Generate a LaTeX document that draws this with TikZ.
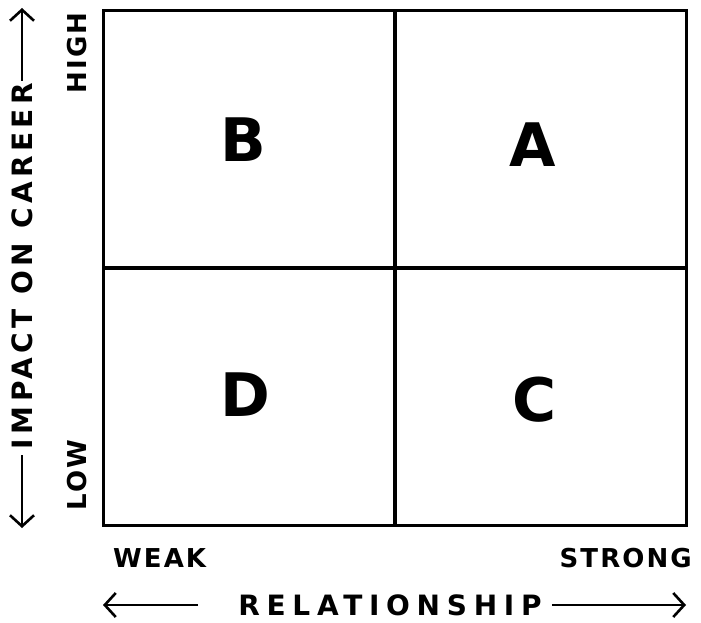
\documentclass[tikz,border=0pt]{standalone}
\usepackage{fontspec}
\setmainfont{DejaVu Sans}
\usetikzlibrary{arrows.meta}
\tikzset{
  cell/.style={draw, line width=3pt, minimum width=291pt, minimum height=257pt, inner sep=0pt, outer sep=0pt},
  quadletter/.style={font=\fontsize{60}{62}\selectfont\bfseries, inner sep=0pt},
  vaxislabel/.style={font=\fontsize{28}{30}\selectfont\bfseries\addfontfeature{LetterSpace=16}, inner sep=0pt},
  haxislabel/.style={font=\fontsize{28}{30}\selectfont\bfseries\addfontfeature{LetterSpace=24}, inner sep=0pt},
  endlabel/.style={font=\fontsize{26}{28}\selectfont\bfseries\addfontfeature{LetterSpace=8}, inner sep=0pt},
  axisarrow/.style={line width=2.6pt, -{Straight Barb[length=11pt,width=24pt,line width=2.6pt]}}
}
\begin{document}
\begin{tikzpicture}[x=1pt,y=-1pt]
\useasboundingbox (0,0) rectangle (701,623);
% quadrants
\node[cell] (qB) at (249,139) {};
\node[cell] (qA) at (540.5,139) {};
\node[cell] (qD) at (249,396.5) {};
\node[cell] (qC) at (540.5,396.5) {};
% letters
\node[quadletter] (lB) at (243,140) {B};
\node[quadletter] (lA) at (533,145) {A};
\node[quadletter] (lD) at (245,395) {D};
\node[quadletter] (lC) at (535,400) {C};
% vertical axis
\node[endlabel, rotate=90] (high) at (77,53) {HIGH};
\node[endlabel, rotate=90] (low) at (77,475) {LOW};
\node[vaxislabel, rotate=90] (impact) at (22,266) {IMPACT ON CAREER};
\coordinate (vtop) at (22,8);
\coordinate (vbot) at (22,528);
\draw[axisarrow] (impact.east) ++(0,-2) -- (vtop);
\draw[axisarrow] (impact.west) ++(0,6) -- (vbot);
% horizontal axis
\node[endlabel, anchor=west] (weak) at (113,558) {WEAK};
\node[endlabel, anchor=east] (strong) at (692,558) {STRONG};
\node[haxislabel] (rel) at (390,605) {RELATIONSHIP};
\coordinate (hleft) at (103,605);
\coordinate (hright) at (686,605);
\draw[axisarrow] (rel.west) ++(-40,0) -- (hleft);
\draw[axisarrow] (rel.east) ++(10,0) -- (hright);
\end{tikzpicture}
\end{document}
